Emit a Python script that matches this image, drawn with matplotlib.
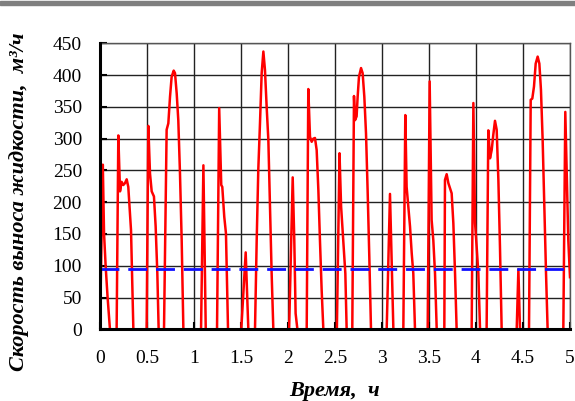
import matplotlib.pyplot as plt
from matplotlib.patches import Rectangle

# time, h
time_h = [
    0.000, 0.030, 0.043, 0.060, 0.080, 0.106,
    0.177, 0.195, 0.213, 0.230, 0.248, 0.266, 0.284, 0.301, 0.330, 0.355,
    0.496, 0.514, 0.532, 0.550, 0.574, 0.592, 0.610, 0.624,
    0.681, 0.709, 0.727, 0.745, 0.762, 0.784, 0.798, 0.816, 0.833, 0.851, 0.869, 0.887,
    1.075, 1.100, 1.125,
    1.245, 1.268, 1.290, 1.301, 1.322, 1.340, 1.362,
    1.503, 1.550, 1.578,
    1.649, 1.667, 1.684, 1.702, 1.720, 1.738, 1.755, 1.773, 1.791, 1.809, 1.826, 1.844,
    2.012, 2.050, 2.067, 2.081, 2.100,
    2.199, 2.216, 2.234, 2.252, 2.270, 2.287, 2.305, 2.323, 2.340, 2.358, 2.376,
    2.520, 2.548, 2.565, 2.590, 2.610, 2.624,
    2.684, 2.702, 2.713, 2.730, 2.741, 2.755, 2.777, 2.794, 2.812, 2.830, 2.847, 2.865, 2.883,
    3.050, 3.085, 3.121,
    3.227, 3.248, 3.262, 3.280, 3.298, 3.316, 3.333, 3.351,
    3.486, 3.507, 3.528, 3.546, 3.564, 3.582,
    3.663, 3.670, 3.688, 3.706, 3.723, 3.741, 3.759, 3.777, 3.794,
    3.954, 3.972, 3.990, 4.007, 4.025, 4.043,
    4.113, 4.131, 4.149, 4.167, 4.184, 4.202, 4.220, 4.238, 4.255, 4.273,
    4.433, 4.451, 4.468,
    4.564, 4.582, 4.599, 4.617, 4.635, 4.656, 4.674, 4.691, 4.709, 4.727, 4.745, 4.762,
    4.929, 4.950, 4.982, 5.000,
]

# liquid removal rate, m3/h
rate = [
    0, 259, 151, 100, 52, 0,
    0, 305, 217, 232, 227, 230, 236, 224, 156, 0,
    0, 320, 245, 217, 209, 162, 88, 0,
    0, 314, 324, 366, 397, 407, 403, 371, 329, 245, 140, 0,
    0, 258, 0,
    0, 348, 227, 224, 177, 151, 0,
    0, 121, 0,
    0, 140, 251, 324, 403, 437, 408, 350, 298, 193, 88, 0,
    0, 239, 140, 25, 0,
    0, 378, 303, 295, 300, 301, 282, 219, 140, 62, 0,
    0, 277, 193, 135, 88, 0,
    0, 367, 329, 335, 366, 397, 411, 403, 366, 308, 219, 114, 0,
    0, 213, 0,
    0, 337, 224, 193, 162, 120, 88, 0,
    0, 390, 172, 140, 88, 0,
    0, 235, 244, 230, 222, 214, 167, 88, 0,
    0, 356, 167, 130, 88, 0,
    0, 313, 269, 282, 306, 328, 314, 235, 130, 0,
    0, 94, 0,
    0, 361, 363, 382, 418, 429, 418, 377, 298, 193, 88, 0,
    0, 342, 140, 82,
]

limit_rate = 95
x_ticks = [0, 0.5, 1, 1.5, 2, 2.5, 3, 3.5, 4, 4.5, 5]
x_tick_labels = ['0', '0.5', '1', '1.5', '2', '2.5', '3', '3.5', '4', '4.5', '5']
y_ticks = list(range(0, 451, 50))

plt.rcParams['font.family'] = ['Liberation Serif', 'DejaVu Serif']

fig = plt.figure(figsize=(5.75, 4.01), dpi=100)
ax = fig.add_axes([0.1739, 0.1788, 0.8174, 0.7133])

# grey band on top of the picture
fig.patches.append(Rectangle((0, 0.988), 1, 0.009, transform=fig.transFigure,
                             color='#7f7f7f', zorder=0))

ax.grid(True, color='#222222', linewidth=1.0, zorder=1)
ax.plot(time_h, rate, color='#ff0000', linewidth=1.8, zorder=3,
        solid_joinstyle='round')
ax.axhline(limit_rate, color='#1010ff', linewidth=2.0, dashes=(6.8, 3.2),
           zorder=4)

ax.set_xlim(0, 5)
ax.set_ylim(0, 450)
ax.set_xticks(x_ticks)
ax.set_xticklabels(x_tick_labels)
ax.set_yticks(y_ticks)
ax.tick_params(direction='in', length=5, width=1.5, labelsize=14, pad=13,
               color='black')
ax.tick_params(axis='x', pad=15)

for side in ('left', 'bottom'):
    ax.spines[side].set_linewidth(2.2)
    ax.spines[side].set_color('black')
    ax.spines[side].set_zorder(5)
for side in ('top', 'right'):
    ax.spines[side].set_linewidth(1.0)
    ax.spines[side].set_color('#555555')

ax.set_xlabel('Время,  ч', fontsize=16, fontstyle='italic',
              fontweight='bold')
ax.xaxis.set_label_coords(0.5, -0.18)
ax.set_ylabel('Скорость выноса жидкости,  м³/ч', fontsize=16,
              fontstyle='italic', fontweight='bold')
ax.yaxis.set_label_coords(-0.15, 0.445)

fig.savefig('out.png', dpi=100)
